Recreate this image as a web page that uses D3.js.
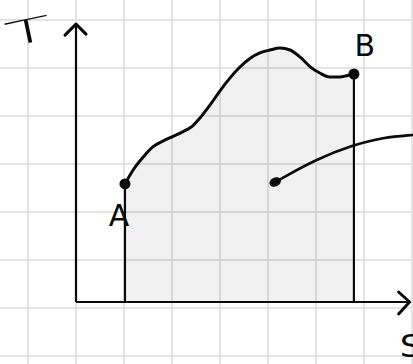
<!DOCTYPE html>
<html>
<head>
<meta charset="utf-8">
<script src="https://cdn.jsdelivr.net/npm/d3@7"></script>
<style>
  html, body { margin: 0; padding: 0; background: #fff; overflow: hidden; }
  svg { display: block; }
</style>
</head>
<body>
<svg id="chart" width="413" height="364"></svg>
<script>
// Entropy (S) and temperature (T) along the process path from state A to state B
const sPath = [1.02, 1.19, 1.40, 1.60, 1.81, 2.02, 2.23, 2.42, 2.58, 2.79, 3.00, 3.21, 3.42, 3.63, 3.83, 4.04, 4.25, 4.46, 4.67, 4.88, 5.08, 5.29, 5.50, 5.71, 5.79];
const tPath = [2.46, 2.75, 3.02, 3.23, 3.35, 3.45, 3.55, 3.66, 3.83, 4.10, 4.40, 4.67, 4.90, 5.08, 5.19, 5.25, 5.29, 5.25, 5.10, 4.90, 4.77, 4.69, 4.69, 4.73, 4.75];

// Callout line pointing into the shaded area (heat exchanged)
const sCallout = [4.15, 4.31, 5.02, 5.77, 6.40, 7.02];
const tCallout = [2.50, 2.59, 2.98, 3.27, 3.43, 3.48];

// State labels at the ends of the path
const stateNames = ["A", "B"];
const axisNames = ["S", "T"];

// Graph-paper lines (in S / T units)
const gridS = [-1, 0, 1, 2, 3, 4, 5, 6, 7];
const gridT = [-1.125, -0.125, 0.875, 1.875, 2.875, 3.875, 4.875, 5.875];

const svg = d3.select("#chart");
const x = d3.scaleLinear().domain([0, 7]).range([76, 412]);
const y = d3.scaleLinear().domain([0, 6]).range([302, 14]);

const ink = "#0a0a0a";

// graph paper
svg.append("g").selectAll("line").data(gridS).join("line")
  .attr("x1", d => x(d)).attr("x2", d => x(d))
  .attr("y1", 0).attr("y2", 364)
  .attr("stroke", "#e3e3e3").attr("stroke-width", 2);
svg.append("g").selectAll("line").data(gridT).join("line")
  .attr("y1", d => y(d)).attr("y2", d => y(d))
  .attr("x1", 0).attr("x2", 413)
  .attr("stroke", "#e3e3e3").attr("stroke-width", 2);

const pts = sPath.map((s, i) => ({ s, t: tPath[i] }));
const smooth = d3.curveMonotoneX;

// shaded area under the path
const area = d3.area()
  .x(d => x(d.s)).y0(y(0)).y1(d => y(d.t))
  .curve(smooth);
svg.append("path").datum(pts)
  .attr("d", area)
  .attr("fill", "rgba(0,0,0,0.055)");

// vertical drops at A and B
const ends = [pts[0], pts[pts.length - 1]];
svg.append("g").selectAll("line").data(ends).join("line")
  .attr("x1", d => x(d.s)).attr("x2", d => x(d.s))
  .attr("y1", d => y(d.t)).attr("y2", y(0))
  .attr("stroke", ink).attr("stroke-width", 2.2);

// axes with arrowheads
const sEnd = 6.95, tEnd = 5.79;
svg.append("line")
  .attr("x1", x(0)).attr("x2", x(sEnd))
  .attr("y1", y(0)).attr("y2", y(0))
  .attr("stroke", ink).attr("stroke-width", 2.2);
svg.append("line")
  .attr("x1", x(0)).attr("x2", x(0))
  .attr("y1", y(0)).attr("y2", y(tEnd))
  .attr("stroke", ink).attr("stroke-width", 2.2);
svg.append("path")
  .attr("d", `M${x(sEnd) - 11},${y(0) - 10} L${x(sEnd)},${y(0)} L${x(sEnd) - 11},${y(0) + 12}`)
  .attr("fill", "none").attr("stroke", ink).attr("stroke-width", 3)
  .attr("stroke-linecap", "round").attr("stroke-linejoin", "round");
svg.append("path")
  .attr("d", `M${x(0) - 11},${y(tEnd) + 11} L${x(0)},${y(tEnd)} L${x(0) + 10},${y(tEnd) + 10}`)
  .attr("fill", "none").attr("stroke", ink).attr("stroke-width", 3)
  .attr("stroke-linecap", "round").attr("stroke-linejoin", "round");

// process path
const line = d3.line()
  .x(d => x(d.s)).y(d => y(d.t))
  .curve(smooth);
svg.append("path").datum(pts)
  .attr("d", line)
  .attr("fill", "none").attr("stroke", ink).attr("stroke-width", 3)
  .attr("stroke-linecap", "round");

// callout
const cpts = sCallout.map((s, i) => ({ s, t: tCallout[i] }));
svg.append("path").datum(cpts)
  .attr("d", d3.line().x(d => x(d.s)).y(d => y(d.t)).curve(d3.curveBasis))
  .attr("fill", "none").attr("stroke", ink).attr("stroke-width", 2.6)
  .attr("stroke-linecap", "round");
svg.append("ellipse")
  .attr("cx", x(cpts[0].s)).attr("cy", y(cpts[0].t))
  .attr("rx", 6).attr("ry", 4.5)
  .attr("transform", `rotate(-25 ${x(cpts[0].s)} ${y(cpts[0].t)})`)
  .attr("fill", ink);

// state points
svg.append("g").selectAll("circle").data(ends).join("circle")
  .attr("cx", d => x(d.s)).attr("cy", d => y(d.t))
  .attr("r", 5.5).attr("fill", ink);

// labels
const font = "'DejaVu Sans', sans-serif";
const labelOffsets = [[-6, 42], [11, -18]];
svg.append("g").selectAll("text").data(ends).join("text")
  .attr("x", (d, i) => x(d.s) + labelOffsets[i][0])
  .attr("y", (d, i) => y(d.t) + labelOffsets[i][1])
  .attr("text-anchor", "middle")
  .attr("font-family", font).attr("font-size", 30).attr("font-weight", 400)
  .attr("fill", ink)
  .text((d, i) => stateNames[i]);

svg.append("text")
  .attr("transform", `translate(${x(6.98)},${y(-1.15)}) scale(1.1,1)`)
  .attr("text-anchor", "middle")
  .attr("font-family", font).attr("font-size", 32).attr("font-weight", 400)
  .attr("fill", ink)
  .text(axisNames[0]);

svg.append("text")
  .attr("transform", `translate(${x(-0.95)},${y(5.4)}) rotate(-12) scale(2.3,1)`)
  .attr("text-anchor", "middle")
  .attr("font-family", font).attr("font-size", 33).attr("font-weight", 300)
  .attr("fill", ink)
  .text(axisNames[1]);
</script>
</body>
</html>
